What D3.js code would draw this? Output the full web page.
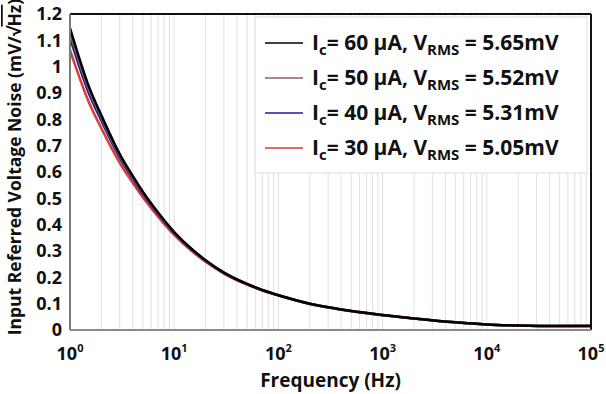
<!DOCTYPE html>
<html>
<head>
<meta charset="utf-8">
<script src="https://cdn.jsdelivr.net/npm/d3@7"></script>
<style>
  body { margin: 0; background: #fff; }
  svg { display: block; font-family: 'Open Sans', sans-serif; font-weight: bold; }
</style>
</head>
<body>
<div id="chart"></div>
<script>
// frequencies (Hz)
const freqs = [1, 1.5, 2, 3, 4, 5, 7, 10, 15, 20, 30, 50, 70, 100, 200, 300, 500, 1000, 2000, 5000, 10000, 20000, 50000, 100000];

// input referred noise, mV/sqrt(Hz)
const noise60 = [1.146, 0.93, 0.815, 0.668, 0.585, 0.525, 0.446, 0.372, 0.305, 0.265, 0.218, 0.175, 0.152, 0.132, 0.1, 0.086, 0.072, 0.057, 0.044, 0.029, 0.021, 0.017, 0.015, 0.015];
const noise50 = [1.13, 0.919, 0.807, 0.663, 0.581, 0.522, 0.444, 0.37, 0.304, 0.264, 0.218, 0.175, 0.152, 0.132, 0.1, 0.086, 0.072, 0.057, 0.044, 0.029, 0.021, 0.017, 0.015, 0.015];
const noise40 = [1.11, 0.904, 0.795, 0.655, 0.575, 0.517, 0.441, 0.368, 0.303, 0.263, 0.217, 0.174, 0.152, 0.132, 0.1, 0.086, 0.072, 0.057, 0.044, 0.029, 0.021, 0.017, 0.015, 0.015];
const noise30 = [1.063, 0.87, 0.766, 0.635, 0.559, 0.504, 0.43, 0.361, 0.297, 0.259, 0.214, 0.172, 0.15, 0.131, 0.099, 0.085, 0.071, 0.056, 0.044, 0.029, 0.021, 0.017, 0.015, 0.016];

const currents = ['60', '50', '40', '30'];
const vrms = ['5.65', '5.52', '5.31', '5.05'];
const colors = ['#000000', '#8a625c', '#1c1c96', '#db3a3a'];

const yTicks = [0, 0.1, 0.2, 0.3, 0.4, 0.5, 0.6, 0.7, 0.8, 0.9, 1, 1.1, 1.2];
const yTickLabels = ['0', '0.1', '0.2', '0.3', '0.4', '0.5', '0.6', '0.7', '0.8', '0.9', '1', '1.1', '1.2'];
const xDecades = [1, 10, 100, 1000, 10000, 100000];
const xExponents = ['0', '1', '2', '3', '4', '5'];

const width = 606;
const height = 394;
const margin = {top: 14, right: 15, bottom: 64, left: 70};
const w = width - margin.left - margin.right;
const h = height - margin.top - margin.bottom;

const x = d3.scaleLog().domain([1, 100000]).range([0, w]);
const y = d3.scaleLinear().domain([0, 1.2]).range([h, 0]);

const svg = d3.select('#chart').append('svg')
  .attr('width', width)
  .attr('height', height)
  .append('g')
  .attr('transform', 'translate(' + margin.left + ',' + margin.top + ')');

// minor vertical grid
const gridVals = [];
xDecades.slice(0, -1).forEach(function(d) {
  for (let k = 1; k < 10; k++) { gridVals.push(d * k); }
});
svg.selectAll('.grid')
  .data(gridVals)
  .enter().append('line')
  .attr('x1', function(d) { return x(d); })
  .attr('x2', function(d) { return x(d); })
  .attr('y1', 0)
  .attr('y2', h)
  .attr('stroke', '#e0e0e0')
  .attr('stroke-width', 1);

// curves, red drawn first, black on top
const series = [noise30, noise40, noise50, noise60];
const seriesColors = [colors[3], colors[2], colors[1], colors[0]];
const line = d3.line()
  .x(function(d, i) { return x(freqs[i]); })
  .y(function(d) { return y(d); })
  .curve(d3.curveMonotoneX);

svg.selectAll('.curve')
  .data(series)
  .enter().append('path')
  .attr('d', function(d) { return line(d); })
  .attr('fill', 'none')
  .attr('stroke', function(d, i) { return seriesColors[i]; })
  .attr('stroke-width', 2.5);

// frame
svg.append('line').attr('x1', 0).attr('x2', w).attr('y1', 0).attr('y2', 0)
  .attr('stroke', '#111').attr('stroke-width', 2);
svg.append('line').attr('x1', w).attr('x2', w).attr('y1', 0).attr('y2', h)
  .attr('stroke', '#111').attr('stroke-width', 2);
svg.append('line').attr('x1', 0).attr('x2', 0).attr('y1', 0).attr('y2', h)
  .attr('stroke', '#7a7a7a').attr('stroke-width', 2);
svg.append('line').attr('x1', 0).attr('x2', w).attr('y1', h).attr('y2', h)
  .attr('stroke', '#8a8a8a').attr('stroke-width', 2);

// y tick labels
svg.selectAll('.ylab')
  .data(yTicks)
  .enter().append('text')
  .attr('x', -8)
  .attr('y', function(d) { return y(d); })
  .attr('dy', '0.35em')
  .attr('text-anchor', 'end')
  .attr('font-size', 18)
  .attr('fill', '#111')
  .text(function(d, i) { return yTickLabels[i]; });

// x tick labels, 10^n
const xl = svg.selectAll('.xlab')
  .data(xDecades)
  .enter().append('text')
  .attr('x', function(d) { return x(d); })
  .attr('y', h + 30)
  .attr('text-anchor', 'middle')
  .attr('font-size', 18)
  .attr('fill', '#111');
xl.append('tspan').text('10');
xl.append('tspan').attr('dy', -8).attr('font-size', 11).text(function(d, i) { return xExponents[i]; });

svg.append('text')
  .attr('x', w / 2)
  .attr('y', h + 57)
  .attr('text-anchor', 'middle')
  .attr('font-size', 19)
  .attr('fill', '#111')
  .text('Frequency (Hz)');

// y title
const yt = svg.append('text')
  .attr('transform', 'translate(' + (21 - margin.left) + ',' + (h / 2 - 5) + ') rotate(-90)')
  .attr('text-anchor', 'middle')
  .attr('font-size', 17.5)
  .attr('fill', '#111');
yt.append('tspan').text('Input Referred Voltage Noise (mV/√');
yt.append('tspan').style('text-decoration', 'overline').text('Hz');
yt.append('tspan').text(')');

// legend
const lg = svg.append('g').attr('transform', 'translate(' + (255 - margin.left) + ',' + (17 - margin.top) + ')');
lg.append('rect')
  .attr('width', 332)
  .attr('height', 156)
  .attr('fill', '#fff')
  .attr('stroke', '#dddddd')
  .attr('stroke-width', 1);

const rows = lg.selectAll('.row')
  .data(currents)
  .enter().append('g')
  .attr('transform', function(d, i) { return 'translate(0,' + (26 + i * 35) + ')'; });

rows.append('line')
  .attr('x1', 10).attr('x2', 48)
  .attr('y1', 0).attr('y2', 0)
  .attr('stroke', function(d, i) { return colors[i]; })
  .attr('stroke-width', 1.5);

const lt = rows.append('text')
  .attr('x', 57)
  .attr('y', 7)
  .attr('font-size', 21)
  .attr('fill', '#111');
lt.append('tspan').text('I');
lt.append('tspan').attr('dy', 5).attr('font-size', 15).text('c');
lt.append('tspan').attr('dy', -5).text(function(d) { return '= ' + d + ' µA, V'; });
lt.append('tspan').attr('dy', 5).attr('font-size', 15).text('RMS');
lt.append('tspan').attr('dy', -5).text(function(d, i) { return ' = ' + vrms[i] + 'mV'; });
</script>
</body>
</html>
